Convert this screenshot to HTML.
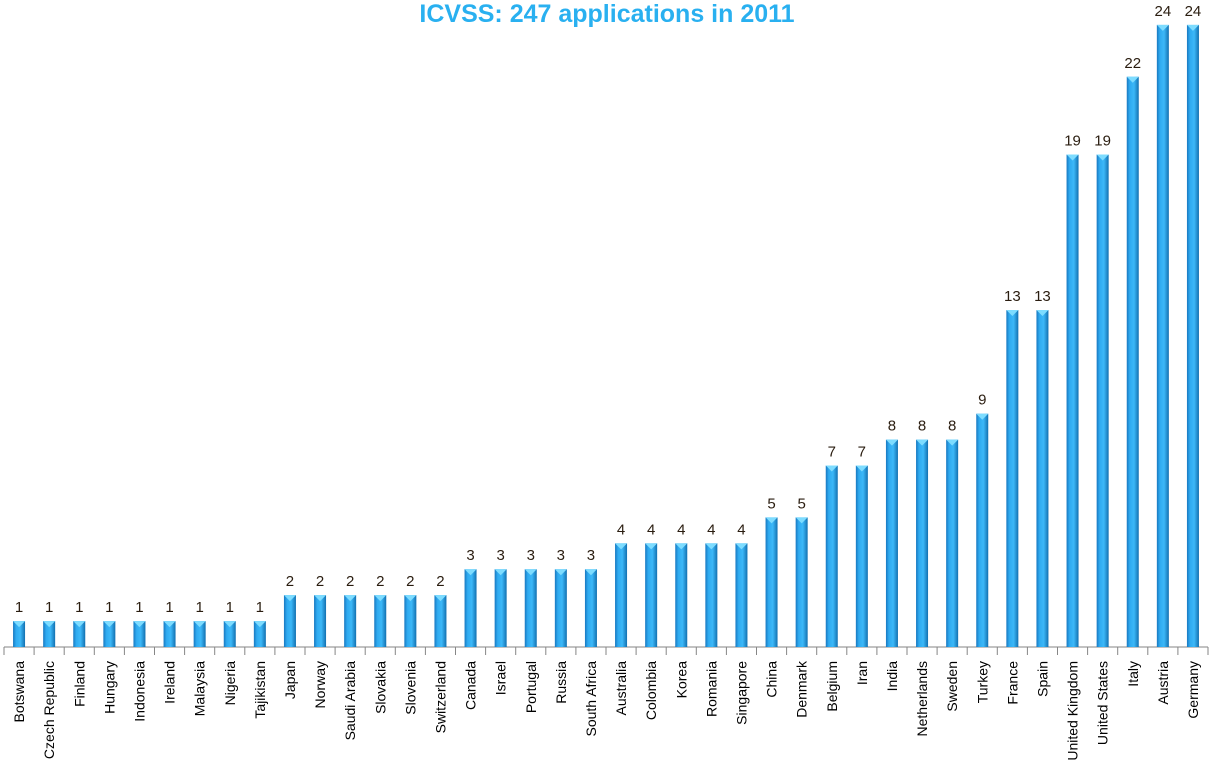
<!DOCTYPE html>
<html><head><style>body{margin:0;background:#fff}svg{display:block}</style></head><body>
<svg id="s" width="1215" height="777" xmlns="http://www.w3.org/2000/svg" font-family="Liberation Sans, sans-serif">
<defs>
<linearGradient id="g" x1="0" x2="1" y1="0" y2="0">
<stop offset="0" stop-color="#1878c0"/><stop offset="0.25" stop-color="#2eaaf0"/><stop offset="0.6" stop-color="#3cb8f8"/><stop offset="1" stop-color="#1270b0"/>
</linearGradient>
</defs>
<text x="607" y="22" text-anchor="middle" font-size="25" font-weight="bold" fill="#29b0f0">ICVSS: 247 applications in 2011</text>
<g id="c"></g>
</svg>
<script>
var d=[["Botswana",1],["Czech Republic",1],["Finland",1],["Hungary",1],["Indonesia",1],["Ireland",1],["Malaysia",1],["Nigeria",1],["Tajikistan",1],["Japan",2],["Norway",2],["Saudi Arabia",2],["Slovakia",2],["Slovenia",2],["Switzerland",2],["Canada",3],["Israel",3],["Portugal",3],["Russia",3],["South Africa",3],["Australia",4],["Colombia",4],["Korea",4],["Romania",4],["Singapore",4],["China",5],["Denmark",5],["Belgium",7],["Iran",7],["India",8],["Netherlands",8],["Sweden",8],["Turkey",9],["France",13],["Spain",13],["United Kingdom",19],["United States",19],["Italy",22],["Austria",24],["Germany",24]];
var h='',b=647,sp=30.1,x0=4,k=25.92;
h+='<line x1="'+x0+'" y1="'+b+'" x2="'+(x0+sp*40)+'" y2="'+b+'" stroke="#868686"/>';
for(var i=0;i<=40;i++){var tx=x0+sp*i;h+='<line x1="'+tx+'" y1="'+b+'" x2="'+tx+'" y2="'+(b+8)+'" stroke="#868686"/>';}
d.forEach(function(e,i){var cx=x0+sp*(i+0.5),t=b-e[1]*k;
h+='<rect x="'+(cx-6)+'" y="'+t+'" width="12" height="'+(b-t)+'" fill="url(#g)"/>';
h+='<polygon points="'+(cx-6)+','+t+' '+(cx+6)+','+t+' '+cx+','+(t+6)+'" fill="#7ddcff"/>';
h+='<text x="'+cx+'" y="'+(t-9)+'" text-anchor="middle" font-size="15" fill="#2a1d10">'+e[1]+'</text>';
h+='<text transform="translate('+(cx+5)+',661) rotate(-90)" text-anchor="end" font-size="14" fill="#000">'+e[0]+'</text>';});
document.getElementById('c').innerHTML=h;
</script>
</body></html>
